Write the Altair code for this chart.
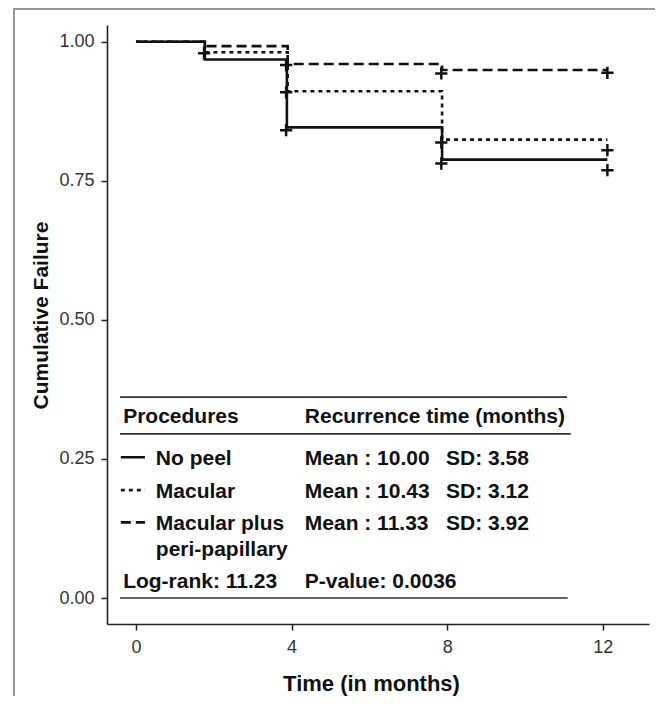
import altair as alt
import pandas as pd

# ---- data ----
groups = ["No peel", "Macular", "Macular plus peri-papillary"]

nopeel_time = [0, 1.77, 3.88, 7.87, 12.12]
nopeel_fail = [1.0, 0.968, 0.846, 0.788, 0.788]

mac_time = [0, 1.77, 3.90, 7.87, 12.12]
mac_fail = [1.0, 0.981, 0.911, 0.824, 0.824]

mpp_time = [0, 1.77, 3.90, 7.87, 12.12]
mpp_fail = [1.0, 0.992, 0.960, 0.949, 0.949]

cens_group = ["Macular", "Macular plus peri-papillary", "Macular", "No peel",
              "Macular plus peri-papillary", "Macular", "No peel",
              "Macular plus peri-papillary", "Macular", "No peel"]
cens_time = [1.75, 3.86, 3.86, 3.86, 7.85, 7.85, 7.85, 12.12, 12.12, 12.12]
cens_fail = [0.979, 0.958, 0.909, 0.841, 0.943, 0.819, 0.781, 0.944, 0.805, 0.769]

x_ticks = [0, 4, 8, 12]
y_ticks = [0.0, 0.25, 0.50, 0.75, 1.0]

# table annotation text
tbl_text = ["Procedures", "Recurrence time (months)",
            "No peel", "Mean : 10.00", "SD: 3.58",
            "Macular", "Mean : 10.43", "SD: 3.12",
            "Macular plus", "peri-papillary", "Mean : 11.33", "SD: 3.92",
            "Log-rank: 11.23", "P-value: 0.0036"]

# ---- layout (positions in data units of the table inside the panel) ----
col_a, col_name, col_b, col_sd = -0.33, 0.51, 4.34, 7.97
row_head, row1, row2, row3, row3b, row4 = 0.325, 0.250, 0.190, 0.1325, 0.0865, 0.0293
tbl_x = [col_a, col_b, col_name, col_b, col_sd, col_name, col_b, col_sd,
         col_name, col_name, col_b, col_sd, col_a, col_b]
tbl_y = [row_head, row_head, row1, row1, row1, row2, row2, row2,
         row3, row3b, row3, row3, row4, row4]
rule_x = [-0.41, -0.41, -0.41]
rule_x2 = [11.08, 11.18, 11.10]
rule_y = [0.361, 0.295, 0.0]
key_x, key_x2 = -0.39, 0.23
key_y = [0.253, 0.194, 0.136]

FONT = "Liberation Sans"
dash_range = [[1, 0], [4, 4], [10, 5]]
width_range = [2.6, 2.6, 2.8]

rows = []
for g, ts, vs in zip(groups, [nopeel_time, mac_time, mpp_time],
                     [nopeel_fail, mac_fail, mpp_fail]):
    for t, v in zip(ts, vs):
        rows.append({"group": g, "time": t, "fail": v})
curves = pd.DataFrame(rows)
cens = pd.DataFrame({"group": cens_group, "time": cens_time, "fail": cens_fail})
texts = pd.DataFrame({"text": tbl_text, "x": tbl_x, "y": tbl_y})
rules = pd.DataFrame({"x": rule_x, "x2": rule_x2, "y": rule_y})
keys = pd.DataFrame({"group": groups, "x": [key_x] * 3, "x2": [key_x2] * 3, "y": key_y})

xscale = alt.Scale(domain=[-0.745, 13.19], nice=False, zero=False)
yscale = alt.Scale(domain=[-0.0467, 1.030], nice=False, zero=False)
dash_scale = alt.Scale(domain=groups, range=dash_range)
sw_scale = alt.Scale(domain=groups, range=width_range)

xaxis = alt.Axis(values=x_ticks, grid=False, title="Time (in months)",
                 labelFontSize=18, labelColor="#333", labelFont=FONT,
                 labelPadding=8, tickSize=6, tickWidth=1.5, tickColor="#222",
                 domainColor="#222", domainWidth=1.6,
                 titleFont=FONT, titleFontSize=22, titleFontWeight="bold",
                 titleColor="#111", titleX=264, titleY=59, titleBaseline="middle",
                 titleAlign="center")
yaxis = alt.Axis(values=y_ticks, grid=False, format=".2f", title="Cumulative Failure",
                 labelFontSize=18, labelColor="#333", labelFont=FONT,
                 labelPadding=7, tickSize=6, tickWidth=1.5, tickColor="#222",
                 domainColor="#222", domainWidth=1.6,
                 titleFont=FONT, titleFontSize=21, titleFontWeight="bold",
                 titleColor="#111", titleX=-66, titleY=290, titleBaseline="middle",
                 titleAlign="center", titleAngle=270)

lines = alt.Chart(curves).mark_line(interpolate="step-after", color="#111").encode(
    x=alt.X("time:Q", scale=xscale, axis=xaxis),
    y=alt.Y("fail:Q", scale=yscale, axis=yaxis),
    strokeDash=alt.StrokeDash("group:N", scale=dash_scale, legend=None),
    strokeWidth=alt.StrokeWidth("group:N", scale=sw_scale, legend=None),
    detail="group:N",
)

plus = alt.Chart(cens).mark_point(
    shape="M-1,0L1,0M0,-1L0,1", filled=False, color="#111", strokeWidth=2.5,
    size=150, opacity=1
).encode(
    x=alt.X("time:Q", scale=xscale),
    y=alt.Y("fail:Q", scale=yscale),
)

tbl_rules = alt.Chart(rules).mark_rule(color="#333", strokeWidth=1.7).encode(
    x=alt.X("x:Q", scale=xscale), x2="x2:Q", y=alt.Y("y:Q", scale=yscale)
)

tbl_keys = alt.Chart(keys).mark_rule(color="#111").encode(
    x=alt.X("x:Q", scale=xscale), x2="x2:Q", y=alt.Y("y:Q", scale=yscale),
    strokeDash=alt.StrokeDash("group:N", scale=dash_scale, legend=None),
    strokeWidth=alt.StrokeWidth("group:N", scale=sw_scale, legend=None),
)

tbl_text_layer = alt.Chart(texts).mark_text(
    align="left", baseline="middle", font=FONT, fontSize=21, fontWeight="bold",
    color="#111"
).encode(
    x=alt.X("x:Q", scale=xscale), y=alt.Y("y:Q", scale=yscale), text="text:N"
)

frame = alt.Chart(pd.DataFrame({"a": [0]})).mark_rect(
    fill=None, stroke="#999", strokeWidth=2
).encode(
    x=alt.value(-93), x2=alt.value(551), y=alt.value(-16), y2=alt.value(720)
)

chart = alt.layer(frame, tbl_rules, tbl_keys, tbl_text_layer, lines, plus).properties(
    width=542, height=599,
    autosize=alt.AutoSizeParams(type="none"),
    padding={"left": 99, "top": 17, "right": 6, "bottom": 72},
    background="white",
).configure_view(stroke=None)

chart.save("out.html", embed_options={"renderer": "svg", "actions": False})
